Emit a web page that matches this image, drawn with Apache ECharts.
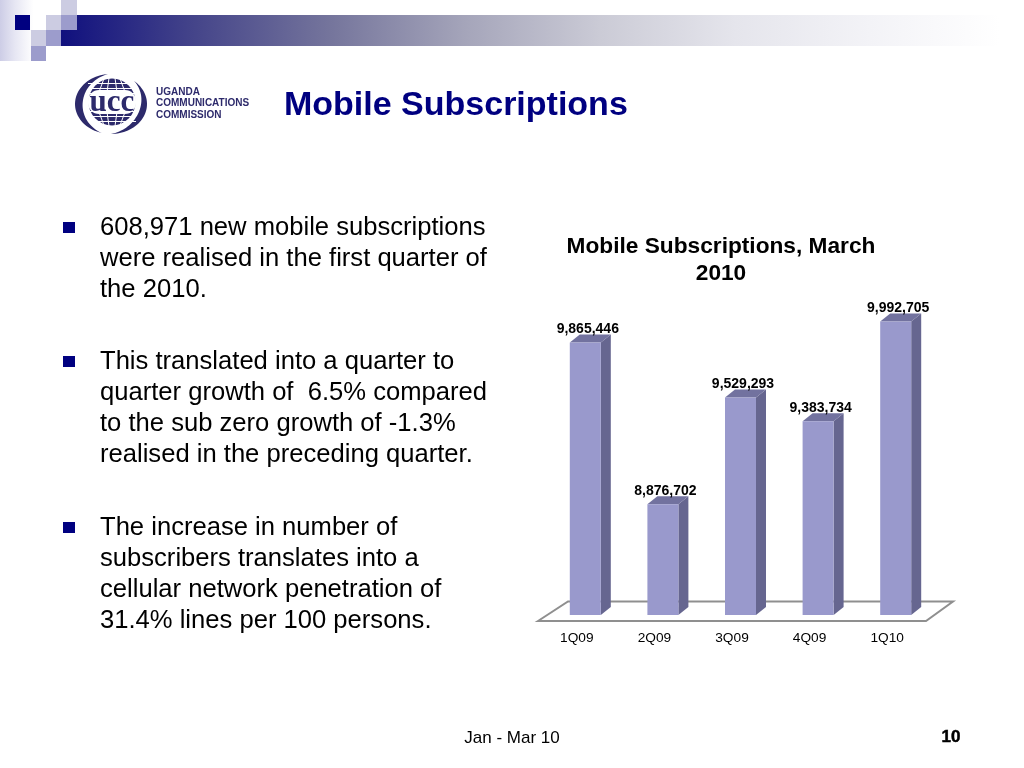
<!DOCTYPE html>
<html><head><meta charset="utf-8">
<style>html,body{margin:0;padding:0;background:#fff}#c{width:1024px;height:768px}</style>
<script src="https://cdn.jsdelivr.net/npm/echarts@6/dist/echarts.min.js"></script></head>
<body><div id="c"></div>
<script>
var categories = ['1Q09','2Q09','3Q09','4Q09','1Q10'];
var subscriptions = [9865446,8876702,9529293,9383734,9992705];
var chartTitle = 'Mobile Subscriptions, March\n2010';
var slideTitle = 'Mobile Subscriptions';
var bullets = [
  ['608,971 new mobile subscriptions','were realised in the first quarter of','the 2010.'],
  ['This translated into a quarter to','quarter growth of  6.5% compared','to the sub zero growth of -1.3%','realised in the preceding quarter.'],
  ['The increase in number of','subscribers translates into a','cellular network penetration of','31.4% lines per 100 persons.']
];
var bulletTops = [228,362,528];
var FONT = '"Liberation Sans", Arial, sans-serif';
var NAVY = '#000080';
var g = [];
function rect(x,y,w,h,fill,z){g.push({type:'rect',z:z||1,silent:true,shape:{x:x,y:y,width:w,height:h},style:{fill:fill}});}
function text(x,y,t,o){g.push({type:'text',z:5,silent:true,x:x,y:y,style:Object.assign({text:t,font:'25.6px '+FONT,fill:'#000',textAlign:'left',textVerticalAlign:'middle'},o||{})});}
function grad(stops){return new echarts.graphic.LinearGradient(0,0,1,0,stops.map(function(s){return {offset:s[0],color:s[1]};}));}

// header band
rect(61,15,963,31,grad([[0,'#10107e'],[0.14,'#45458a'],[0.28,'#75759c'],[0.42,'#a5a5ba'],[0.56,'#cbcbd6'],[0.70,'#e5e5ec'],[0.84,'#f3f3f7'],[0.975,'#ffffff'],[1,'#ffffff']]));
rect(0,0,42,61,grad([[0,'#cdcde6'],[0.35,'#e6e6f3'],[0.8,'#ffffff'],[1,'#ffffff']]));
rect(15,15,15,15,'#000080',2);
rect(46,15,15,15,'#ccccE2',2);
rect(61,15,16,15,'#9c9ccc',2);
rect(61,0,16,15,'#ccccE2',2);
rect(31,30,15,16,'#ccccE2',2);
rect(46,30,15,16,'#9c9ccc',2);
rect(31,46,15,15,'#9c9ccc',2);

// logo
var LC = '#2d2a6b', cx=112, cy=102;
function crescent(a0,a1,w){
  var pts=[],n=40,i,u,t;
  for(i=0;i<=n;i++){u=i/n;t=(a0+(a1-a0)*u)*Math.PI/180;pts.push([111+36*Math.cos(t),104+30*Math.sin(t)]);}
  for(i=n;i>=0;i--){u=i/n;t=(a0+(a1-a0)*u)*Math.PI/180;var f=1-w*Math.sin(Math.PI*u)/33;pts.push([111+36*f*Math.cos(t),104+30*f*Math.sin(t)]);}
  g.push({type:'polygon',z:3,silent:true,shape:{points:pts},style:{fill:LC}});
}
crescent(105,265,7);
crescent(-50,90,6);
g.push({type:'circle',z:3,silent:true,shape:{cx:cx,cy:cy,r:26},style:{fill:'#fff'}});
g.push({type:'circle',z:3,silent:true,shape:{cx:cx,cy:cy,r:23.5},style:{fill:LC}});
[-19,-14,-9,9,14,19].forEach(function(d){rect(cx-24,cy+d,48,1,'#fff',4);});
[-13,-5,5,13].forEach(function(d){
  g.push({type:'line',z:4,silent:true,shape:{x1:cx+d*0.6,y1:cy-24,x2:cx+d,y2:cy-10},style:{stroke:'#fff',lineWidth:1}});
  g.push({type:'line',z:4,silent:true,shape:{x1:cx+d*0.6,y1:cy+24,x2:cx+d,y2:cy+10},style:{stroke:'#fff',lineWidth:1}});
});
g.push({type:'rect',z:4,silent:true,shape:{x:cx-24,y:cy-12,width:48,height:24,r:11},style:{fill:'#fff'}});
text(cx,cy+1,'ucc',{font:'bold 31px "Liberation Serif", serif',fill:LC,textAlign:'center'});
text(156,92,'UGANDA',{font:'bold 10px '+FONT,fill:LC});
text(156,103.5,'COMMUNICATIONS',{font:'bold 10px '+FONT,fill:LC});
text(156,115,'COMMISSION',{font:'bold 10px '+FONT,fill:LC});

// slide title
text(284,106,slideTitle,{font:'bold 34px '+FONT,fill:NAVY});

// bullets
bullets.forEach(function(lines,i){
  rect(63,bulletTops[i]-6,12,11,NAVY);
  lines.forEach(function(l,j){ text(100,bulletTops[i]+j*31,l); });
});

// chart title
chartTitle.split('\n').forEach(function(l,i){ text(721,247+i*27,l,{font:'bold 22.7px '+FONT,textAlign:'center'}); });

// footer
text(512,738,'Jan - Mar 10',{font:'17px '+FONT,textAlign:'center'});
text(951,737,'10',{font:'bold 17px '+FONT,textAlign:'center',stroke:'#000',lineWidth:0.5});

// floor of the 3D plot
g.push({type:'polygon',z:1,silent:true,shape:{points:[[538,621],[568,601.5],[953,601.5],[926,621]]},style:{fill:'#fff',stroke:'#8f8f8f',lineWidth:2}});

function renderBar(params,api){
  var p = api.coord([api.value(0),api.value(1)]);
  var b = api.coord([api.value(0),8200000]);
  var x0 = p[0]-7, x1 = x0+31, yt = p[1], yb = b[1], dx = 10, dy = 8;
  return {type:'group',children:[
    {type:'polygon',shape:{points:[[x1,yt],[x1+dx,yt-dy],[x1+dx,yb-dy],[x1,yb]]},style:{fill:'#666690'}},
    {type:'polygon',shape:{points:[[x0,yt],[x0+dx,yt-dy],[x1+dx,yt-dy],[x1,yt]]},style:{fill:'#72729f'}},
    {type:'rect',shape:{x:x0,y:yt,width:31,height:yb-yt},style:{fill:'#9999cc'}},
    {type:'text',x:x0+18,y:yt-13,style:{text:echarts.format.addCommas(api.value(1)),font:'bold 14px '+FONT,fill:'#000',textAlign:'center',textVerticalAlign:'middle'}}
  ]};
}

var chart = echarts.init(document.getElementById('c'),null,{renderer:'canvas'});
chart.setOption({
  animation:false,
  backgroundColor:'#fff',
  graphic:{elements:g},
  grid:{left:538,top:304,width:388,height:311,containLabel:false},
  xAxis:{type:'category',data:categories,axisLine:{show:false},axisTick:{show:false},
    axisLabel:{color:'#000',fontFamily:'"Liberation Sans", Arial, sans-serif',fontSize:13.7,margin:16}},
  yAxis:{type:'value',min:8200000,max:10100000,show:false,splitLine:{show:false}},
  series:[{type:'custom',z:10,renderItem:renderBar,encode:{x:0,y:1},data:categories.map(function(c,i){return [i,subscriptions[i]];})}]
});
</script></body></html>
